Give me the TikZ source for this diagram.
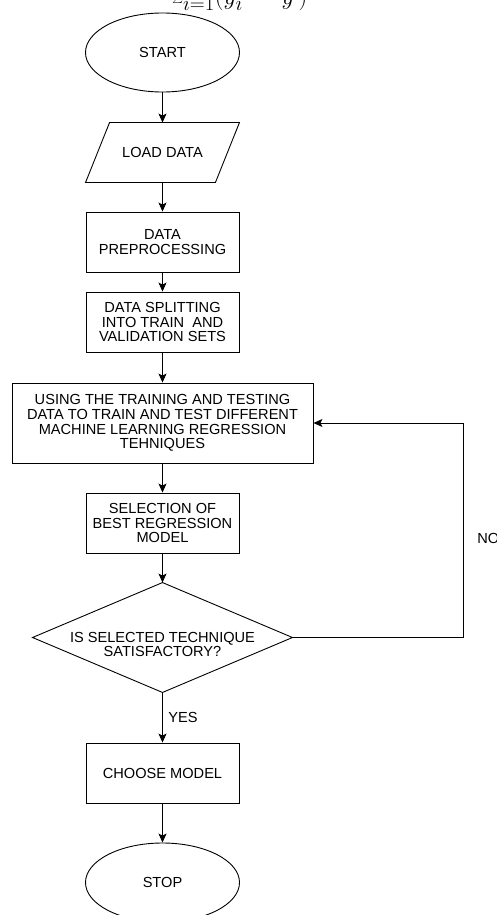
\documentclass[tikz,border=0pt]{standalone}
\usepackage{fontspec}
\setmainfont{Liberation Sans}
\usetikzlibrary{shapes.geometric,arrows.meta}
\begin{document}
\begin{tikzpicture}[x=1pt,y=1pt,
  line width=0.9pt,
  every node/.style={font=\fontsize{14.6}{14.7}\selectfont, inner sep=0pt, align=center},
  box/.style={draw, rectangle, minimum width=153pt, minimum height=60pt},
  term/.style={draw, ellipse, minimum width=154pt, minimum height=79pt},
  hidden/.style={rectangle},
  arr/.style={-{Stealth[length=9pt,width=8pt,inset=2pt]}}]
\useasboundingbox (0,0) rectangle (496,-915);
\clip (0,0) rectangle (496,-915);

\node[font=\fontsize{30}{30}\selectfont, anchor=base west] (formula) at (172,-5) {$\sum_{i=1}(\hat{y}_i\,-\,\bar{y}\,)$};

\node[term] (start) at (162.5,-52.5) {START};
\node[hidden, minimum width=129pt, minimum height=59pt] (load) at (162.5,-152.5) {LOAD DATA};
\draw ([xshift=-12pt]load.south west) -- ([xshift=12pt]load.north west) -- ([xshift=12pt]load.north east) -- ([xshift=-12pt]load.south east) -- cycle;
\node[box] (prep) at (162.5,-242) {DATA\\PREPROCESSING};
\node[box] (split) at (162.5,-322) {DATA SPLITTING\\INTO TRAIN\ \ AND\\VALIDATION SETS};
\node[box, minimum width=301pt, minimum height=80pt] (train) at (162.5,-423) {USING THE TRAINING AND TESTING\\DATA TO TRAIN AND TEST DIFFERENT\\MACHINE LEARNING REGRESSION\\TEHNIQUES};
\node[box] (sel) at (162.5,-523) {SELECTION OF\\BEST REGRESSION\\MODEL};
\node[hidden, minimum width=259pt, minimum height=109pt] (dec) at (162.5,-637.5) {};
\draw (dec.north) -- (dec.east) -- (dec.south) -- (dec.west) -- cycle;
\node (dectext) at ([yshift=-7pt]dec.center) {IS SELECTED TECHNIQUE\\SATISFACTORY?};
\node[box] (choose) at (162.5,-773) {CHOOSE MODEL};
\node[term] (stop) at (162.5,-882.5) {STOP};

\node[anchor=west] (yes) at (168,-717) {YES};
\node[anchor=west] (no) at (477,-538) {NO};
\coordinate (nocorner) at (463,-637.5);

\draw[arr] (start.south) -- (load.north);
\draw[arr] (load.south) -- (prep.north);
\draw[arr] (prep.south) -- (split.north);
\draw[arr] (split.south) -- (train.north);
\draw[arr] (train.south) -- (sel.north);
\draw[arr] (sel.south) -- (dec.north);
\draw[arr] (dec.south) -- (choose.north);
\draw[arr] (choose.south) -- (stop.north);
\draw[arr] (dec.east) -- (nocorner) |- (train.east);
\end{tikzpicture}
\end{document}
